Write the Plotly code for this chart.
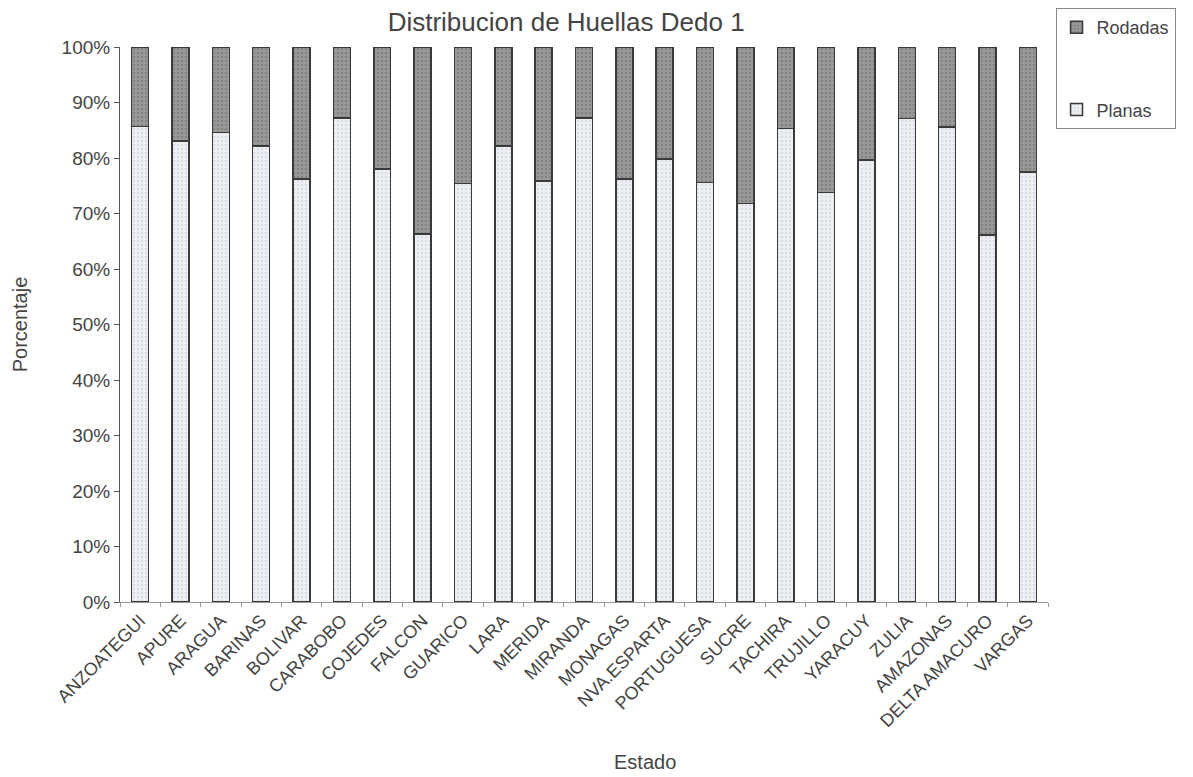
import plotly.graph_objects as go

estados = ["ANZOATEGUI", "APURE", "ARAGUA", "BARINAS", "BOLIVAR", "CARABOBO",
           "COJEDES", "FALCON", "GUARICO", "LARA", "MERIDA", "MIRANDA",
           "MONAGAS", "NVA.ESPARTA", "PORTUGUESA", "SUCRE", "TACHIRA",
           "TRUJILLO", "YARACUY", "ZULIA", "AMAZONAS", "DELTA AMACURO", "VARGAS"]

planas = [85.7, 83.1, 84.6, 82.2, 76.2, 87.2, 78.0, 66.3, 75.4, 82.2, 75.9,
          87.2, 76.2, 79.8, 75.6, 71.8, 85.3, 73.8, 79.6, 87.1, 85.6, 66.1, 77.5]
rodadas = [14.3, 16.9, 15.4, 17.8, 23.8, 12.8, 22.0, 33.7, 24.6, 17.8, 24.1,
           12.8, 23.8, 20.2, 24.4, 28.2, 14.7, 26.2, 20.4, 12.9, 14.4, 33.9, 22.5]

y_ticks = [0, 10, 20, 30, 40, 50, 60, 70, 80, 90, 100]
y_labels = ["0%", "10%", "20%", "30%", "40%", "50%", "60%", "70%", "80%", "90%", "100%"]

FONT = "Liberation Sans, Arial, sans-serif"

fig = go.Figure()
fig.add_trace(go.Bar(
    x=estados, y=planas, name="Planas", legendgroup="p", legendrank=2,
    marker=dict(color="#eceff3", line=dict(color="#3a3a3a", width=1.5),
                pattern=dict(shape=".", fgcolor="#c4c8cc", bgcolor="#eceff3",
                             size=4, solidity=0.25)),
))
fig.add_trace(go.Bar(
    x=estados, y=rodadas, name="Rodadas", legendgroup="r", legendrank=1,
    marker=dict(color="#969696", line=dict(color="#3a3a3a", width=1.5),
                pattern=dict(shape=".", fgcolor="#6a6a6a", bgcolor="#999999",
                             size=4, solidity=0.3)),
))

fig.update_layout(
    width=1185, height=769,
    barmode="stack", bargap=0.58,
    plot_bgcolor="white", paper_bgcolor="white",
    font=dict(family=FONT, size=17, color="#444"),
    margin=dict(l=112, r=145, t=39, b=175, autoexpand=False),
    title=dict(text="Distribucion de Huellas Dedo 1", xref="container",
               x=0.471, xanchor="center", yref="container",
               y=0.9818, yanchor="middle", font=dict(size=26, color="#444")),
    legend=dict(xref="container", yref="container",
                x=0.884, xanchor="left", y=1.0, yanchor="top",
                tracegroupgap=56, itemwidth=30,
                bordercolor="#888", borderwidth=1, bgcolor="white",
                font=dict(size=18, color="#444")),
    showlegend=True,
)
fig.update_yaxes(
    range=[0, 100], tickvals=y_ticks, ticktext=y_labels, showgrid=False,
    showline=True, linecolor="#555", linewidth=1, ticks="outside", ticklen=5,
    tickcolor="#555", tickfont=dict(size=19), automargin=False,
    title=dict(text="Porcentaje", standoff=28, font=dict(size=20)),
)
fig.update_xaxes(
    showgrid=False, showline=True, linecolor="#999", linewidth=1,
    ticks="outside", tickson="boundaries", ticklen=4, tickcolor="#999",
    tickangle=-45, tickfont=dict(size=18), automargin=False,
)
fig.add_annotation(text="Estado", xref="paper", yref="paper",
                   x=0.566, y=-0.288, xanchor="center", yanchor="middle",
                   showarrow=False, font=dict(size=20, color="#444"))

fig.write_html("out.html")
